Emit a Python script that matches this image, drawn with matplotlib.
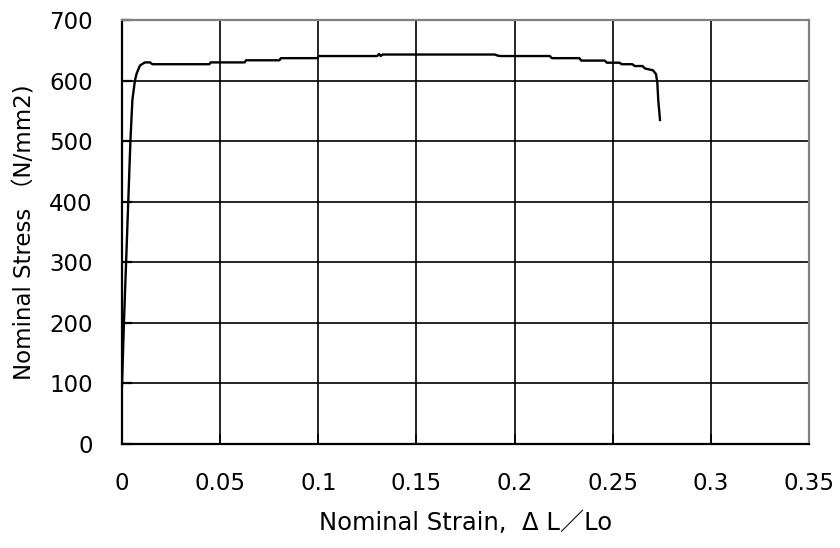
import matplotlib
matplotlib.use("Agg")
import matplotlib.pyplot as plt

plt.rcParams['font.family'] = ['DejaVu Sans', 'Noto Sans CJK JP']

# nominal stress-strain curve of the tensile test
strain = [0.0, 0.0010, 0.0021, 0.0032, 0.0043, 0.0053, 0.0066, 0.0075, 0.0092, 0.0117,
          0.0143, 0.0155, 0.0445, 0.0452, 0.0625, 0.0632, 0.0802, 0.0810, 0.0995, 0.1002,
          0.1300, 0.1310, 0.1318, 0.1328, 0.1340, 0.1900, 0.1915, 0.1930, 0.2180, 0.2190,
          0.2330, 0.2340, 0.2460, 0.2470, 0.2535, 0.2545, 0.2600, 0.2612, 0.2652, 0.2664,
          0.2705, 0.2720, 0.2727, 0.2732, 0.2741]
stress = [95, 200, 300, 400, 500, 568, 600, 612, 625, 630,
          630, 627, 627, 630, 630, 633.5, 633.5, 637, 637, 640.5,
          640.5, 644, 640.5, 643, 643, 643, 641, 640.5, 640.5, 637,
          637, 633, 633, 629.5, 629.5, 627, 627, 624, 624, 620,
          617, 611, 598, 568, 535]

x_ticks = [0, 0.05, 0.1, 0.15, 0.2, 0.25, 0.3, 0.35]
x_ticklabels = ["0", "0.05", "0.1", "0.15", "0.2", "0.25", "0.3", "0.35"]
y_ticks = [0, 100, 200, 300, 400, 500, 600, 700]

fig = plt.figure(figsize=(8.4, 5.48), dpi=100)
ax = fig.add_axes([0.1452, 0.1898, 0.8179, 0.7737])

ax.plot(strain, stress, color='black', lw=1.7, zorder=3)

ax.set_xlim(0, 0.35)
ax.set_ylim(0, 700)
ax.set_xticks(x_ticks)
ax.set_xticklabels(x_ticklabels)
ax.set_yticks(y_ticks)

ax.grid(True, color='black', lw=1.2)
ax.set_axisbelow(True)

for side in ['left', 'bottom']:
    ax.spines[side].set_color('black')
    ax.spines[side].set_linewidth(1.6)
for side in ['top', 'right']:
    ax.spines[side].set_color('#808080')
    ax.spines[side].set_linewidth(1.6)

ax.tick_params(axis='y', direction='in', length=7, width=1.6, pad=21, labelsize=16.5)
ax.tick_params(axis='x', direction='in', length=7, width=1.2, pad=20, labelsize=16.5)

ax.set_xlabel("Nominal Strain,  Δ L／Lo", fontsize=17.5, labelpad=12)
ax.set_ylabel("Nominal Stress （N/mm2)", fontsize=16.5, labelpad=9)

fig.savefig("out.png", dpi=100)
